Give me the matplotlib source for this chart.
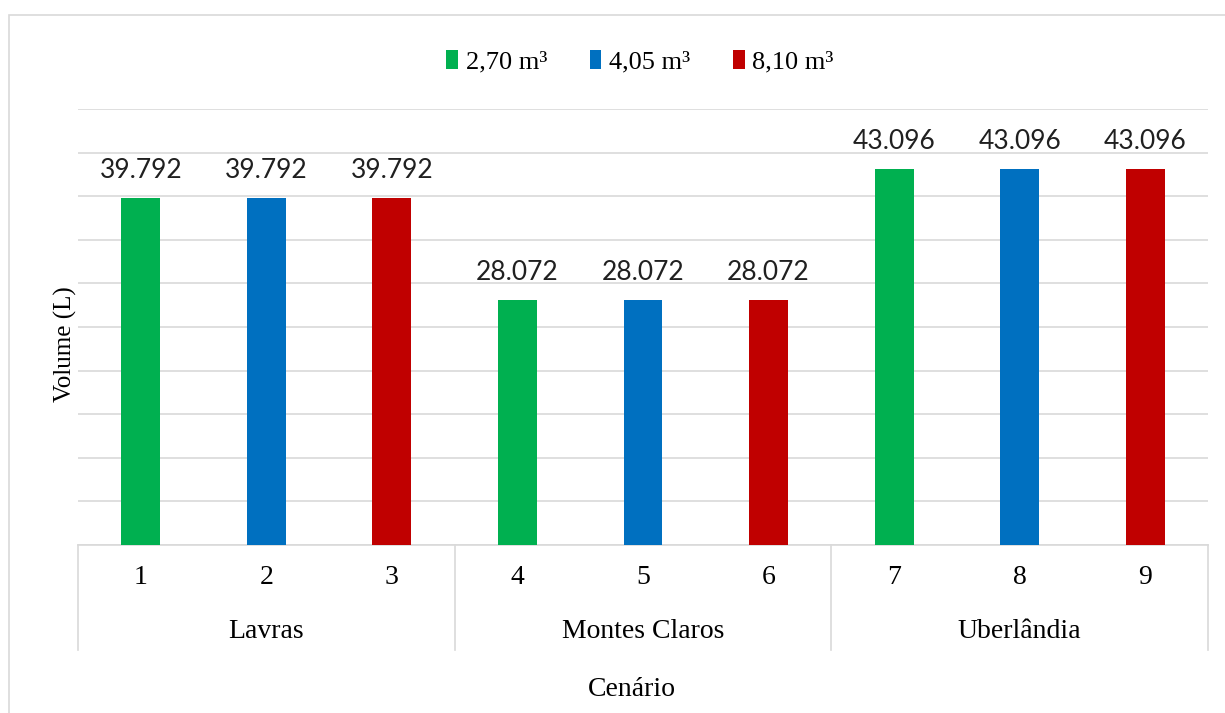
import matplotlib
matplotlib.use("Agg")
import matplotlib.pyplot as plt
from matplotlib.patches import Patch, Rectangle
import matplotlib.transforms as mtransforms

# data
scenarios = ["1", "2", "3", "4", "5", "6", "7", "8", "9"]
cities = ["Lavras", "Montes Claros", "Uberlândia"]
volumes = [39792, 39792, 39792, 28072, 28072, 28072, 43096, 43096, 43096]
tank_labels = ["2,70 m³", "4,05 m³", "8,10 m³"]
tank_colors = ["#00B050", "#0070C0", "#C00000"]

serif = ["Liberation Serif", "DejaVu Serif"]
sans = ["Lato", "DejaVu Sans"]
grid_color = "#d9d9d9"

fig = plt.figure(figsize=(12.25, 7.13), dpi=100)
ax = fig.add_axes([78 / 1225, 1 - 545 / 713, (1208 - 78) / 1225, 436 / 713])

# outer chart frame
fig.patches.append(Rectangle((9 / 1225, -0.1), 1.2, 1.1 - 15 / 713,
                             transform=fig.transFigure, fill=False,
                             edgecolor=grid_color, linewidth=1.2, zorder=0))

colors = [tank_colors[i % 3] for i in range(len(volumes))]
x = list(range(len(volumes)))
ax.bar(x, volumes, width=0.31, color=colors, zorder=3)

for xi, v in zip(x, volumes):
    label = f"{v:,}".replace(",", ".")
    ax.annotate(label, (xi, v), xytext=(0, 20), textcoords="offset points",
                ha="center", va="center", fontsize=19, family=sans,
                color="#202020")

ax.set_xlim(-0.5, len(volumes) - 0.5)
ax.set_ylim(0, 50000)
ax.set_yticks(range(0, 50001, 5000))
ax.yaxis.grid(True, color=grid_color, linewidth=1.2, zorder=0)
ax.set_axisbelow(True)
ax.tick_params(left=False, labelleft=False, bottom=False, labelbottom=False)
for s in ["top", "right", "left"]:
    ax.spines[s].set_visible(False)
ax.spines["bottom"].set_color(grid_color)
ax.spines["bottom"].set_linewidth(1.2)

trans = mtransforms.blended_transform_factory(ax.transData, ax.transAxes)
for xi, s in zip(x, scenarios):
    ax.text(xi, -33 / 436, s, transform=trans, ha="center", va="center",
            fontsize=20, family=serif)
for g, city in enumerate(cities):
    ax.text(g * 3 + 1, -87 / 436, city, transform=trans, ha="center",
            va="center", fontsize=20, family=serif)
for b in range(len(cities) + 1):
    ax.plot([b * 3 - 0.5, b * 3 - 0.5], [0, -105 / 436], transform=trans,
            color=grid_color, linewidth=1.2, clip_on=False)

fig.text(65 / 1225, 1 - 344 / 713, "Volume (L)", rotation=90, ha="center",
         va="center", fontsize=18, family=serif)
fig.text(632 / 1225, 1 - 690 / 713, "Cenário", ha="center", va="center",
         fontsize=20, family=serif)

handles = [Patch(facecolor=c, label=l) for c, l in zip(tank_colors, tank_labels)]
fig.legend(handles=handles, loc="center", bbox_to_anchor=(640 / 1225, 1 - 62 / 713),
           ncol=3, frameon=False, prop={"family": serif, "size": 19},
           handlelength=0.45, handleheight=0.75, handletextpad=0.3,
           columnspacing=1.6)

fig.savefig("out.png", dpi=100)
